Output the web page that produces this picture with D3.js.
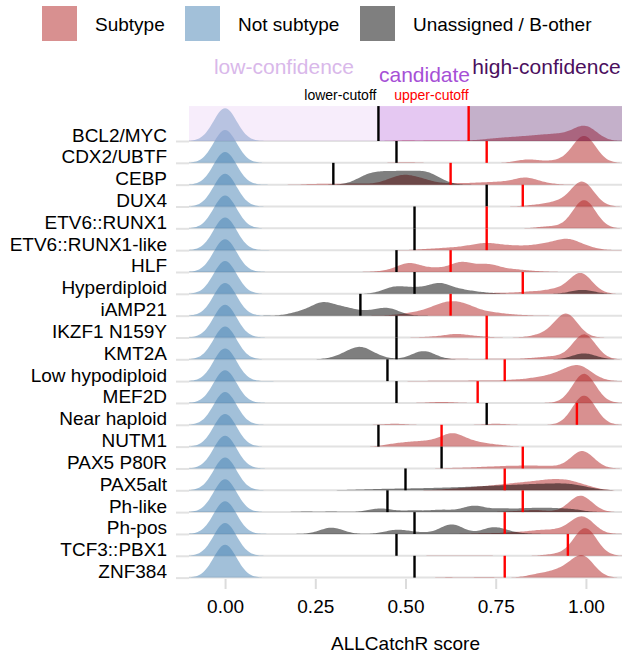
<!DOCTYPE html>
<html>
<head>
<meta charset="utf-8">
<script src="https://cdn.jsdelivr.net/npm/d3@7"></script>
<style>
  body { margin: 0; background: #fff; }
  svg { display: block; font-family: "Liberation Sans", Arial, Helvetica, sans-serif; }
</style>
</head>
<body>
<div id="chart"></div>
<script>
// Subtypes, top to bottom
var subtypes = ['BCL2/MYC', 'CDX2/UBTF', 'CEBP', 'DUX4', 'ETV6::RUNX1', 'ETV6::RUNX1-like', 'HLF',
    'Hyperdiploid', 'iAMP21', 'IKZF1 N159Y', 'KMT2A', 'Low hypodiploid', 'MEF2D', 'Near haploid',
    'NUTM1', 'PAX5 P80R', 'PAX5alt', 'Ph-like', 'Ph-pos', 'TCF3::PBX1', 'ZNF384'];

var lowerCutoff = [0.425, 0.475, 0.300, 0.725, 0.525, 0.525, 0.475, 0.525, 0.375, 0.475, 0.475,
    0.450, 0.475, 0.725, 0.425, 0.600, 0.500, 0.450, 0.525, 0.475, 0.525];
var upperCutoff = [0.675, 0.725, 0.625, 0.825, 0.725, 0.725, 0.625, 0.825, 0.625, 0.725, 0.725,
    0.775, 0.700, 0.975, 0.600, 0.825, 0.775, 0.825, 0.775, 0.950, 0.775];

// Score samples [score, weight] per subtype row
var notSubtypeScores = [[0.0, 1]];   // same for every row

var subtypeScores = [
    [[0.50, .02], [0.58, .02], [0.64, .015], [0.72, .03], [0.76, .05], [0.80, .065], [0.84, .08], [0.88, .10], [0.92, .12], [0.96, .10], [1.0, .41]],
    [[0.50, .02], [0.84, .10], [0.92, .06], [0.995, .82]],
    [[0.25, .02], [0.31, .02], [0.37, .03], [0.46, .10], [0.50, .22], [0.55, .12], [0.63, .04], [0.70, .05], [0.76, .07], [0.83, .20], [0.88, .04]],
    [[0.86, .04], [0.92, .12], [0.99, .75]],
    [[0.90, .06], [0.995, .86]],
    [[0.56, .03], [0.62, .06], [0.68, .10], [0.73, .17], [0.79, .11], [0.85, .10], [0.90, .14], [0.95, .28], [1.0, .08]],
    [[0.45, .03], [0.51, .26], [0.58, .10], [0.655, .29], [0.73, .22], [0.80, .07], [0.86, .02]],
    [[0.76, .03], [0.84, .06], [0.91, .12], [0.985, .63]],
    [[0.50, .04], [0.55, .10], [0.60, .25], [0.645, .28], [0.69, .15], [0.75, .07], [0.81, .02]],
    [[0.575, .02], [0.64, .10], [0.70, .03], [0.88, .08], [0.945, .72]],
    [[0.64, .02], [0.75, .02], [0.85, .03], [0.91, .08], [0.995, .76]],
    [[0.60, .015], [0.70, .02], [0.80, .04], [0.87, .10], [0.93, .20], [0.98, .40], [1.02, .06]],
    [[0.60, .03], [0.995, .89]],
    [[0.47, .03], [0.75, .03], [0.995, .89]],
    [[0.47, .07], [0.52, .10], [0.57, .12], [0.63, .37], [0.69, .12], [0.75, .05]],
    [[0.65, .02], [0.72, .04], [0.78, .06], [0.84, .07], [0.90, .06], [0.99, .53]],
    [[0.60, .015], [0.65, .04], [0.70, .07], [0.75, .10], [0.80, .14], [0.85, .17], [0.90, .22], [0.95, .22], [1.0, .10]],
    [[0.80, .02], [0.86, .06], [0.985, .50]],
    [[0.72, .02], [0.80, .05], [0.87, .10], [0.93, .10], [0.99, .52]],
    [[0.60, .01], [0.70, .01], [0.92, .05], [0.998, .84]],
    [[0.62, .015], [0.72, .02], [0.87, .10], [0.93, .20], [0.99, .65]]
];

var unassignedScores = [
    [],
    [],
    [[0.39, .20], [0.43, .21], [0.47, .21], [0.51, .21], [0.55, .21], [0.58, .15]],
    [], [], [], [],
    [[0.47, .20], [0.53, .14], [0.595, .30], [0.66, .10], [0.72, .03], [0.99, .12]],
    [[0.21, .10], [0.27, .36], [0.33, .20], [0.39, .10], [0.45, .22]],
    [],
    [[0.33, .10], [0.375, .32], [0.42, .06], [0.55, .25], [0.995, .18]],
    [], [], [], [], [],
    [[0.35, .01], [0.40, .02], [0.45, .03], [0.50, .035], [0.55, .04], [0.60, .05], [0.65, .06], [0.70, .075], [0.75, .09], [0.80, .105], [0.85, .12], [0.90, .13], [0.95, .14], [1.0, .07]],
    [[0.22, .015], [0.30, .015], [0.43, .11], [0.52, .05], [0.60, .07], [0.69, .19], [0.77, .10], [0.84, .10], [0.90, .10], [0.96, .08]],
    [[0.295, .19], [0.475, .12], [0.53, .04], [0.628, .29], [0.745, .20], [0.80, .03]],
    [],
    []
];

var xTicks = [0, 0.25, 0.5, 0.75, 1];

// Set up svg
var svgWidth = 626;
var svgHeight = 655;

var svg = d3.select('#chart')
    .append('svg')
    .attr('width', svgWidth)
    .attr('height', svgHeight);

var x = d3.scaleLinear()
    .domain([-0.1, 1.1])
    .range([189, 622]);

var y = d3.scalePoint()
    .domain(subtypes)
    .range([141, 577.6]);

var rowStep = y.step();
var ridgeScale = 1.5;
var bandwidth = 0.032;
var grid = d3.range(-0.1, 1.1001, 0.004);
var rectTop = y(subtypes[0]) - 1.6 * rowStep;

// Kernel density from weighted samples
function density(points) {
    return grid.map((v) => [v, d3.sum(points, (p) => p[1] * Math.exp(-0.5 * Math.pow((v - p[0]) / bandwidth, 2)))]);
};

svg.append('defs').append('clipPath')
    .attr('id', 'panel')
    .append('rect')
    .attr('x', x(-0.1))
    .attr('y', 0)
    .attr('width', x(1.1) - x(-0.1))
    .attr('height', 580);

// Grid lines
svg.append('g')
    .selectAll('line')
    .data(subtypes)
    .join('line')
    .attr('x1', x(-0.1))
    .attr('x2', x(1.1))
    .attr('y1', (d) => y(d))
    .attr('y2', (d) => y(d))
    .attr('stroke', '#e2e2e2')
    .attr('stroke-width', 2);

// Ridges
var ridgeGroup = svg.append('g').attr('clip-path', 'url(#panel)');

var groups = [
    {scores: subtypeScores, color: '#b22222'},
    {scores: subtypes.map(() => notSubtypeScores), color: '#4682b4'},
    {scores: unassignedScores, color: '#000000'}
];

subtypes.forEach((name, i) => {
    var base = y(name);
    var area = d3.area()
        .x((d) => x(d[0]))
        .y0(base)
        .y1((d) => base - d[1] * ridgeScale * rowStep);

    groups.forEach((g) => {
        if (g.scores[i].length === 0) return;
        ridgeGroup.append('path')
            .datum(density(g.scores[i]))
            .attr('d', area)
            .attr('fill', g.color)
            .attr('fill-opacity', 0.5);
    });
});

// Confidence bands on top row
var bands = [
    {x0: -0.1, x1: lowerCutoff[0], color: '#e7c8f3'},
    {x0: lowerCutoff[0], x1: upperCutoff[0], color: '#b058d8'},
    {x0: upperCutoff[0], x1: 1.1, color: '#4b0f5e'}
];

svg.append('g')
    .selectAll('rect')
    .data(bands)
    .join('rect')
    .attr('x', (d) => x(d.x0))
    .attr('width', (d) => x(d.x1) - x(d.x0))
    .attr('y', rectTop)
    .attr('height', y(subtypes[0]) - rectTop)
    .attr('fill', (d) => d.color)
    .attr('fill-opacity', 0.33);

// Cutoff segments
var cutGroup = svg.append('g');
subtypes.forEach((name, i) => {
    var y1 = y(name);
    var y2 = i === 0 ? rectTop : y1 - rowStep;
    cutGroup.append('line')
        .attr('x1', x(lowerCutoff[i])).attr('x2', x(lowerCutoff[i]))
        .attr('y1', y1).attr('y2', y2)
        .attr('stroke', '#000')
        .attr('stroke-width', 2.4);
    cutGroup.append('line')
        .attr('x1', x(upperCutoff[i])).attr('x2', x(upperCutoff[i]))
        .attr('y1', y1).attr('y2', y2)
        .attr('stroke', '#ff0000')
        .attr('stroke-width', 2.4);
});

// Cutoff labels
svg.append('text')
    .attr('x', x(lowerCutoff[0]) - 2)
    .attr('y', 100)
    .attr('text-anchor', 'end')
    .style('font-size', '14px')
    .attr('fill', '#000')
    .text('lower-cutoff');

svg.append('text')
    .attr('x', x(upperCutoff[0]))
    .attr('y', 100)
    .attr('text-anchor', 'end')
    .style('font-size', '14px')
    .attr('fill', '#ff0000')
    .text('upper-cutoff');

// Confidence labels
var confLabels = [
    {text: 'low-confidence', x: 284, y: 74, color: '#d9b8ea'},
    {text: 'candidate', x: 424.5, y: 82, color: '#a650d6'},
    {text: 'high-confidence', x: 546.5, y: 74, color: '#4b0f5e'}
];

svg.append('g')
    .selectAll('text')
    .data(confLabels)
    .join('text')
    .attr('x', (d) => d.x)
    .attr('y', (d) => d.y)
    .attr('text-anchor', 'middle')
    .style('font-size', '21px')
    .attr('fill', (d) => d.color)
    .text((d) => d.text);

// Axes
var xAxis = svg.append('g')
    .attr('transform', 'translate(0, 579)')
    .call(d3.axisBottom(x).tickValues(xTicks).tickFormat(d3.format('.2f')).tickSize(10));

xAxis.select('.domain').remove();
xAxis.selectAll('line').attr('stroke', '#dcdcdc').attr('stroke-width', 2);
xAxis.selectAll('text')
    .attr('y', 34)
    .attr('dy', 0)
    .attr('fill', '#000')
    .style('font-size', '19px')
    .style('font-family', '"Liberation Sans", Arial, sans-serif');

var yAxis = svg.append('g')
    .attr('transform', `translate(${x(-0.1)}, 0)`)
    .call(d3.axisLeft(y).tickSize(13));

yAxis.select('.domain').remove();
yAxis.selectAll('line').attr('stroke', '#e2e2e2').attr('stroke-width', 2);
yAxis.selectAll('text')
    .attr('x', -22)
    .attr('dy', 0)
    .attr('fill', '#000')
    .style('font-size', '19px')
    .style('font-family', '"Liberation Sans", Arial, sans-serif');

svg.append('text')
    .attr('x', (x(-0.1) + x(1.1)) / 2)
    .attr('y', 650)
    .attr('text-anchor', 'middle')
    .style('font-size', '19px')
    .attr('fill', '#000')
    .text('ALLCatchR score');

// Legend
var legendItems = [
    {label: 'Subtype', color: '#b22222', x: 42},
    {label: 'Not subtype', color: '#4682b4', x: 185},
    {label: 'Unassigned / B-other', color: '#000000', x: 360}
];

var legend = svg.append('g')
    .selectAll('g')
    .data(legendItems)
    .join('g')
    .attr('transform', (d) => `translate(${d.x}, 6)`);

legend.append('rect')
    .attr('width', 35)
    .attr('height', 35)
    .attr('fill', (d) => d.color)
    .attr('fill-opacity', 0.5);

legend.append('text')
    .attr('x', 53)
    .attr('y', 25)
    .style('font-size', '19px')
    .attr('fill', '#000')
    .text((d) => d.label);
</script>
</body>
</html>
